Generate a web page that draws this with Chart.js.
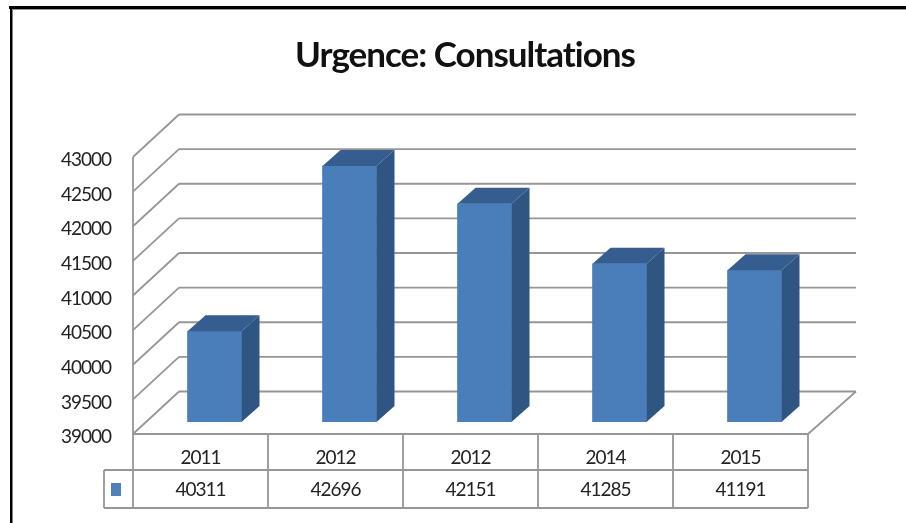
<!DOCTYPE html>
<html>
<head>
<meta charset="utf-8">
<title>Urgence: Consultations</title>
<script src="https://cdn.jsdelivr.net/npm/chart.js@4/dist/chart.umd.min.js"></script>
<style>
  html, body { margin: 0; padding: 0; background: #fff; overflow: hidden; }
  canvas { display: block; }
</style>
</head>
<body>
<canvas id="graph" width="906" height="523"></canvas>
<script>
// Values (the second 2012 is in the original too)
const years = ['2011', '2012', '2012', '2014', '2015'];
const consultations = [40311, 42696, 42151, 41285, 41191];
const yTicks = [39000, 39500, 40000, 40500, 41000, 41500, 42000, 42500, 43000];

const gridColor = '#969696';
const textColor = '#222';
const fontFamily = 'Lato, sans-serif';

// Fake 3D: back wall offset, and where the bars stand on the floor
const wall = { dx: 46, dy: 42.5 };
const barFront = { dx: 14, dy: 12 };
const barDepth = { dx: 18, dy: 16 };

const fillPoly = (ctx, color, pts) => {
  ctx.fillStyle = color;
  ctx.beginPath();
  pts.forEach((p, i) => i ? ctx.lineTo(p[0], p[1]) : ctx.moveTo(p[0], p[1]));
  ctx.closePath();
  ctx.fill();
};

const line = (ctx, x1, y1, x2, y2) => {
  ctx.beginPath();
  ctx.moveTo(x1, y1);
  ctx.lineTo(x2, y2);
  ctx.stroke();
};

// Walls, floor and the table under the plot
const backdrop = {
  id: 'backdrop',
  afterLayout(chart) {
    // title is centred on 465, not on the plot
    chart.titleBlock.left = 0;
    chart.titleBlock.right = 930;
  },
  beforeDraw(chart) {
    // the original text is narrow and tall
    chart.ctx.letterSpacing = '-1px';
  },
  beforeDatasetsDraw(chart) {
    const { ctx, chartArea: a, scales: { y } } = chart;
    ctx.save();

    // page frame, top and left only
    ctx.fillStyle = '#000';
    ctx.fillRect(9, 6, 897, 3);
    ctx.fillRect(10, 6, 2.5, 517);
    ctx.fillStyle = '#999';
    ctx.fillRect(12.5, 9, 893.5, 1);

    ctx.strokeStyle = gridColor;
    ctx.lineWidth = 1.8;
    yTicks.forEach(v => {
      const py = y.getPixelForValue(v);
      line(ctx, a.left, py, a.left + wall.dx, py - wall.dy);
      line(ctx, a.left + wall.dx, py - wall.dy, a.right + wall.dx + 2, py - wall.dy);
    });
    line(ctx, a.left, a.top, a.left, a.bottom);
    line(ctx, a.right, a.bottom, a.right + wall.dx + 2, a.bottom - wall.dy);

    // data table
    const rowMid = 470, rowEnd = 508, keyLeft = 104;
    line(ctx, a.left, a.bottom, a.right, a.bottom);
    line(ctx, keyLeft, rowMid, a.right, rowMid);
    line(ctx, keyLeft, rowEnd, a.right, rowEnd);
    line(ctx, keyLeft, rowMid, keyLeft, rowEnd);
    const cell = (a.right - a.left) / years.length;
    for (let i = 0; i <= years.length; i++) {
      line(ctx, a.left + i * cell, a.bottom, a.left + i * cell, rowEnd);
    }
    ctx.fillStyle = '#4f81bd';
    ctx.fillRect(111, 483, 10, 13);
    ctx.restore();

    // the bars stand further back on the floor
    ctx.save();
    ctx.translate(barFront.dx, -barFront.dy);
  },
  afterDatasetsDraw(chart) {
    const { ctx, chartArea: a } = chart;
    chart.getDatasetMeta(0).data.forEach(bar => {
      const l = bar.x - bar.width / 2, r = bar.x + bar.width / 2;
      const t = bar.y, b = a.bottom;
      const d = barDepth;
      fillPoly(ctx, '#2f5583', [[r, t], [r + d.dx, t - d.dy], [r + d.dx, b - d.dy], [r, b]]);
      fillPoly(ctx, '#355d90', [[l, t], [l + d.dx, t - d.dy], [r + d.dx, t - d.dy], [r, t]]);
    });
    ctx.restore();
  }
};

new Chart(document.getElementById('graph').getContext('2d'), {
  type: 'bar',
  data: {
    labels: years,
    datasets: [{
      label: 'Consultations',
      data: consultations,
      backgroundColor: '#4a7ebb',
      barThickness: 54,
      borderWidth: 0
    }]
  },
  options: {
    responsive: false,
    animation: false,
    layout: { padding: { right: 98 } },
    plugins: {
      legend: { display: false },
      tooltip: { enabled: false },
      title: {
        display: true,
        text: 'Urgence: Consultations',
        color: '#111',
        font: { family: fontFamily, size: 35, weight: 'bold', lineHeight: 1 },
        padding: { top: 38, bottom: 84 }
      }
    },
    scales: {
      x: {
        grid: { display: false },
        border: { display: false },
        afterFit: s => { s.height = 89; },
        ticks: {
          // year and value share a tick: the two rows of the table
          callback: (v, i) => [years[i], String(consultations[i])],
          color: textColor,
          maxRotation: 0,
          padding: 0,
          font: { family: fontFamily, size: 19, lineHeight: '32px' }
        }
      },
      y: {
        min: 39000,
        max: 43000,
        grid: { display: false },
        border: { display: false },
        afterFit: s => { s.width = 133; },
        ticks: {
          stepSize: 500,
          color: textColor,
          padding: 14,
          labelOffset: 3,
          callback: v => String(v),
          font: { family: fontFamily, size: 19 }
        }
      }
    }
  },
  plugins: [backdrop]
});
</script>
</body>
</html>
